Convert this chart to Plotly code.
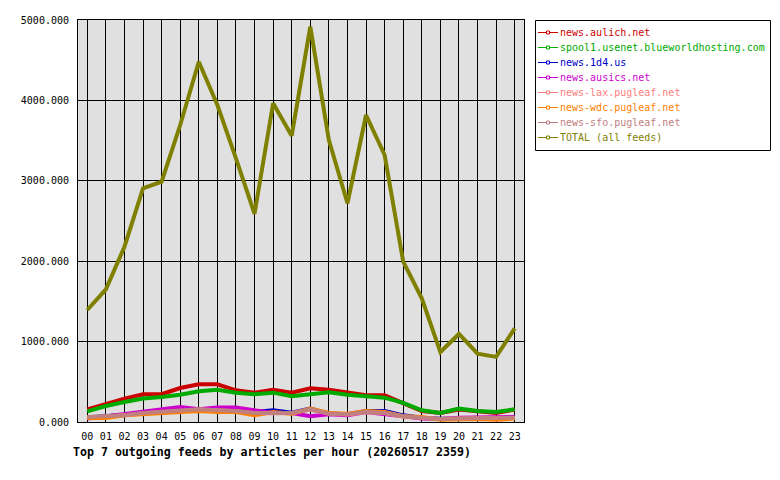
import plotly.graph_objects as go

hours = [f"{h:02d}" for h in range(24)]

aulich = [155, 229, 291, 345, 345, 423, 469, 469, 394, 365, 402, 364, 419, 402, 361, 332, 332, 237, 137, 112, 154, 133, 112, 154]
spool1 = [133, 199, 249, 291, 311, 340, 382, 402, 365, 345, 365, 320, 345, 369, 340, 320, 303, 237, 146, 112, 166, 137, 125, 158]
news1d4 = [55, 70, 90, 115, 135, 158, 160, 150, 137, 125, 146, 115, 166, 105, 95, 137, 137, 83, 54, 40, 40, 40, 40, 54]
ausics = [42, 71, 96, 125, 146, 187, 158, 179, 179, 146, 112, 112, 71, 96, 83, 125, 104, 71, 42, 37, 54, 54, 54, 62]
lax = [60, 65, 85, 110, 125, 135, 155, 145, 135, 110, 112, 110, 155, 105, 92, 125, 112, 68, 52, 36, 42, 42, 40, 50]
wdc = [50, 50, 83, 96, 112, 125, 137, 125, 125, 83, 125, 104, 166, 112, 104, 137, 125, 71, 62, 29, 37, 37, 29, 42]
sfo = [62, 71, 83, 112, 125, 137, 158, 146, 137, 112, 112, 112, 158, 104, 96, 125, 112, 71, 54, 37, 42, 42, 42, 54]
total = [1393, 1650, 2180, 2906, 2989, 3694, 4481, 3943, 3280, 2590, 3964, 3561, 4917, 3507, 2720, 3818, 3321, 1994, 1538, 870, 1095, 850, 810, 1165]

names = ["news.aulich.net", "spool1.usenet.blueworldhosting.com", "news.1d4.us", "news.ausics.net",
         "news-lax.pugleaf.net", "news-wdc.pugleaf.net", "news-sfo.pugleaf.net", "TOTAL (all feeds)"]
series = [aulich, spool1, news1d4, ausics, lax, wdc, sfo, total]
colors = ["#CC0000", "#00AA00", "#0000CC", "#CC00CC", "#FF8080", "#FF8000", "#C08080", "#808000"]

# plot area in pixels
L, R, T, B = 78, 524, 20, 422
W, H = 780, 480


def px(x):
    return (x - L) / (R - L)


def py(y):
    return (B - y) / (B - T)


xs = list(range(24))
fig = go.Figure()
for name, vals, col in zip(names, series, colors):
    fig.add_trace(go.Scatter(x=xs, y=vals, mode="lines", name=name,
                             line=dict(color=col, width=4), showlegend=False))

font = "DejaVu Sans Mono"
shapes = [dict(type="rect", xref="paper", yref="paper", x0=px(535.5), x1=px(770.5),
               y0=py(150.5), y1=py(20.5), line=dict(color="black", width=1), fillcolor="white",
               layer="above")]
annotations = []
for i, (name, col) in enumerate(zip(names, colors)):
    yc = 32.5 + 15 * i
    shapes.append(dict(type="line", xref="paper", yref="paper", x0=px(538), x1=px(558),
                       y0=py(yc), y1=py(yc), line=dict(color=col, width=1), layer="above"))
    shapes.append(dict(type="rect", xref="paper", yref="paper", x0=px(546.5), x1=px(549.5),
                       y0=py(yc + 1.5), y1=py(yc - 1.5), line=dict(color=col, width=1),
                       fillcolor="white", layer="above"))
    annotations.append(dict(text=name, xref="paper", yref="paper", x=px(558), y=py(yc),
                            xanchor="left", yanchor="middle", showarrow=False,
                            font=dict(family=font, size=10, color=col)))

annotations.append(dict(text="<b>Top 7 outgoing feeds by articles per hour (20260517 2359)</b>",
                        xref="paper", yref="paper", x=px(71), y=py(452), xanchor="left",
                        yanchor="middle", showarrow=False,
                        font=dict(family=font, size=11.6, color="black")))

fig.update_layout(
    width=W, height=H,
    margin=dict(l=L, r=W - R, t=T, b=H - B, autoexpand=False),
    paper_bgcolor="white", plot_bgcolor="#E0E0E0",
    font=dict(family=font, size=10, color="black"),
    showlegend=False,
    xaxis=dict(range=[-0.5, 23.5], tickmode="array", tickvals=xs, ticktext=hours,
               showgrid=True, gridcolor="black", gridwidth=1, zeroline=False,
               showline=True, linecolor="black", linewidth=1, mirror=True,
               ticks="", ticklabelstandoff=5, tickfont=dict(family=font, size=10)),
    yaxis=dict(range=[0, 5000], tickmode="array", tickvals=[0, 1000, 2000, 3000, 4000, 5000],
               tickformat=".3f", showgrid=True, gridcolor="black", gridwidth=1, zeroline=False,
               showline=True, linecolor="black", linewidth=1, mirror=True,
               ticks="", ticklabelstandoff=6, tickfont=dict(family=font, size=10)),
    shapes=shapes,
    annotations=annotations,
)

fig.write_html("out.html")
